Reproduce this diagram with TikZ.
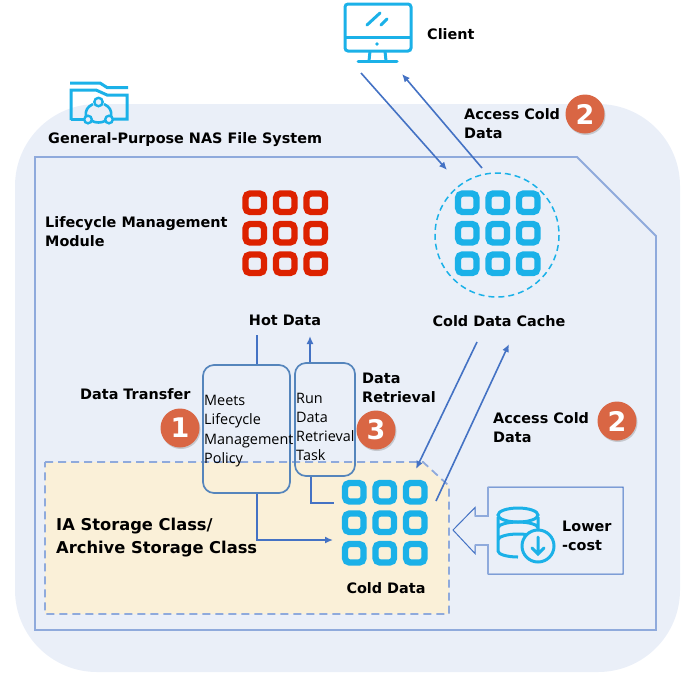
\documentclass[tikz,border=0pt]{standalone}
\usepackage{fontspec}
\setmainfont{DejaVu Sans}
\newfontfamily\boxfont{Open Sans}
\usetikzlibrary{shadows,arrows.meta}
\definecolor{panelbg}{HTML}{EAEFF8}
\definecolor{frameblue}{HTML}{8FAADC}
\definecolor{linkblue}{HTML}{4472C4}
\definecolor{boxblue}{HTML}{5585BC}
\definecolor{iconblue}{HTML}{1BB1E8}
\definecolor{gridred}{HTML}{DD2200}
\definecolor{creamfill}{HTML}{FAF0D8}
\definecolor{badgeorange}{HTML}{D96644}
\tikzset{
  lbl/.style={inner sep=0pt,font=\fontsize{14.4}{19}\selectfont\bfseries,align=left},
  plain/.style={inner sep=0pt,font=\boxfont\fontsize{14.4}{19.2}\selectfont,align=left},
  link/.style={draw=linkblue,line width=1.6pt,>={Latex[length=8pt,width=7pt]}},
  taskbox/.style={draw=boxblue,line width=1.7pt,rounded corners=11pt,inner sep=0pt},
  badge/.style={circle,fill=badgeorange,text=white,minimum size=39pt,inner sep=0pt,
    font=\fontsize{27}{27}\selectfont\bfseries,drop shadow={shadow xshift=1pt,shadow yshift=-1.5pt,opacity=0.35}},
  cellgrid/.pic={
    \foreach \i in {0,1,2}
      \foreach \j in {0,1,2}
        \draw[line width=6.4pt,rounded corners=4.5pt] (\i*30.5-9,\j*30.5-9) rectangle +(18.5,18.5);
  }
}
\begin{document}
\begin{tikzpicture}[x=1pt,y=-1pt]
\useasboundingbox (0,0) rectangle (692,673);
% Backgrounds
\fill[panelbg,rounded corners=82pt] (15,104) rectangle (680,672);
\draw[frameblue,line width=1.8pt] (35,157)--(577,157)--(656,236)--(656,630)--(35,630)--cycle;
\fill[creamfill] (45,462)--(423,462)--(449,486)--(449,614)--(45,614)--cycle;
\draw[frameblue,line width=1.8pt,dash pattern=on 8pt off 5pt] (45,462)--(423,462)--(449,486)--(449,614)--(45,614)--cycle;
% Client
\draw[iconblue,line width=3pt,rounded corners=3pt] (345,4) rectangle (411,51);
\draw[iconblue,line width=3pt] (345,37)--(411,37);
\fill[iconblue] (377,44) circle (1.8);
\draw[iconblue,line width=3pt,line cap=round] (367,25)--(380,13) (381,25)--(387,19);
\draw[iconblue,line width=3pt] (370,51)--(369,61) (385,51)--(386,61);
\draw[iconblue,line width=3pt,line cap=round] (358,61.5)--(397,61.5);
% Folder
\draw[iconblue,line width=3pt] (70,83)--(100,83)--(107,87.5)--(128,87.5);
\draw[iconblue,line width=3pt] (71,120)--(71,90)--(96,90)--(107,95)--(127,95)--(127,119)--(112,119);
\draw[iconblue,line width=3pt] (71,119)--(84,119);
% Folder emblem
\draw[iconblue,line width=2.6pt] (93,104) .. controls (87,107) and (85,111) .. (86,116);
\draw[iconblue,line width=2.6pt] (104,104) .. controls (110,107) and (112,111) .. (111,116);
\draw[iconblue,line width=2.6pt] (92,121) .. controls (96,123) and (101,123) .. (105,121);
\draw[iconblue,line width=2.4pt,fill=panelbg] (98.5,102) circle (4.2);
\draw[iconblue,line width=2.4pt,fill=panelbg] (88,119.5) circle (3.8);
\draw[iconblue,line width=2.4pt,fill=panelbg] (109,119.5) circle (3.8);
% Grids
\pic[gridred] at (254.5,202.5) {cellgrid};
\pic[iconblue] at (467,202.5) {cellgrid};
\pic[iconblue] at (354,492) {cellgrid};
\draw[iconblue,line width=1.5pt,dash pattern=on 6pt off 4pt] (497,235) circle (62);
% Callout
\draw[linkblue,line width=1pt] (488,487)--(623,487)--(623,574)--(488,574)--(488,545)--(475,545)--(475,553.5)--(453,530)--(475,507.5)--(475,516)--(488,516)--cycle;
\draw[frameblue,line width=1.2pt] (475,516)--(488,516)--(488,487) (475,545)--(488,545)--(488,574);
% Database
\draw[iconblue,line width=3pt] (498,517)--(498,551) arc (180:90:20 and 6) (498,528) arc (180:360:20 and 6) (498,540) arc (180:300:20 and 6) (538,517)--(538,530);
\draw[iconblue,line width=3pt] (518,515) ellipse (20 and 7);
\draw[iconblue,line width=3pt,fill=panelbg] (538,546) circle (16);
\draw[iconblue,line width=3pt,line cap=round] (538,537)--(538,554) (532,548)--(538,554)--(544,548);
% Labels
\node[lbl,anchor=west] (clientlbl) at (427,34) {Client};
\node[lbl,anchor=west] (coldtop) at (464,123.5) {Access Cold\\Data};
\node[lbl,anchor=west] (naslbl) at (48,140) {General-Purpose NAS File System};
\node[lbl,anchor=west] (modulelbl) at (45,231.5) {Lifecycle Management\\Module};
\node[lbl] (hotdata) at (285,320) {Hot Data};
\node[lbl] (cachelbl) at (499,321) {Cold Data Cache};
\node[lbl,anchor=west] (transferlbl) at (80,394) {Data Transfer};
\node[lbl,anchor=west] (retrievallbl) at (362,387.5) {Data\\Retrieval};
\node[lbl,anchor=west] (coldmid) at (493,427.5) {Access Cold\\Data};
\node[lbl,anchor=west,font=\fontsize{16.3}{23}\selectfont\bfseries] (iaclass) at (56,537.5) {IA Storage Class/\\Archive Storage Class};
\node[lbl] (colddata) at (386,588) {Cold Data};
\node[lbl,anchor=west] (lowerlbl) at (562,535.5) {Lower\\-cost};
% Task boxes
\node[taskbox,minimum width=87pt,minimum height=128pt] (policybox) at (246.5,429) {};
\node[taskbox,minimum width=60pt,minimum height=113pt] (taskbox) at (325,419.5) {};
\node[plain,anchor=west] (policytxt) at (204,431) {Meets\\Lifecycle\\Management\\Policy};
\node[plain,anchor=west] (tasktxt) at (296,427) {Run\\Data\\Retrieval\\Task};
% Badges
\node[badge] (badgeone) at (180,428) {1};
\node[badge] (badgetwotop) at (585,114) {2};
\node[badge] (badgetwo) at (617,421) {2};
\node[badge] (badgethree) at (376,430) {3};
% Connector ends
\coordinate (clientout) at (361,73);
\coordinate (cachein) at (447,170);
\coordinate (cacheout) at (482,168);
\coordinate (clientin) at (402,74);
\coordinate (cachedown) at (477,342);
\coordinate (coldin) at (416,469);
\coordinate (coldout) at (436,501);
\coordinate (cacheup) at (509,344);
\coordinate (hotend) at (257,335);
\coordinate (hotarrow) at (310,336);
\coordinate (transferend) at (333,540);
\coordinate (retrieveend) at (334,503);
% Connectors
\draw[link,->] (clientout)--(cachein);
\draw[link,->] (cacheout)--(clientin);
\draw[link,->] (cachedown)--(coldin);
\draw[link,->] (coldout)--(cacheup);
\draw[link] (policybox.north -| hotend)--(hotend);
\draw[link,->] (taskbox.north -| hotarrow)--(hotarrow);
\draw[link,->] (policybox.south -| hotend)|-(transferend);
\draw[link] (taskbox.south -| 311,0)|-(retrieveend);
\end{tikzpicture}
\end{document}
